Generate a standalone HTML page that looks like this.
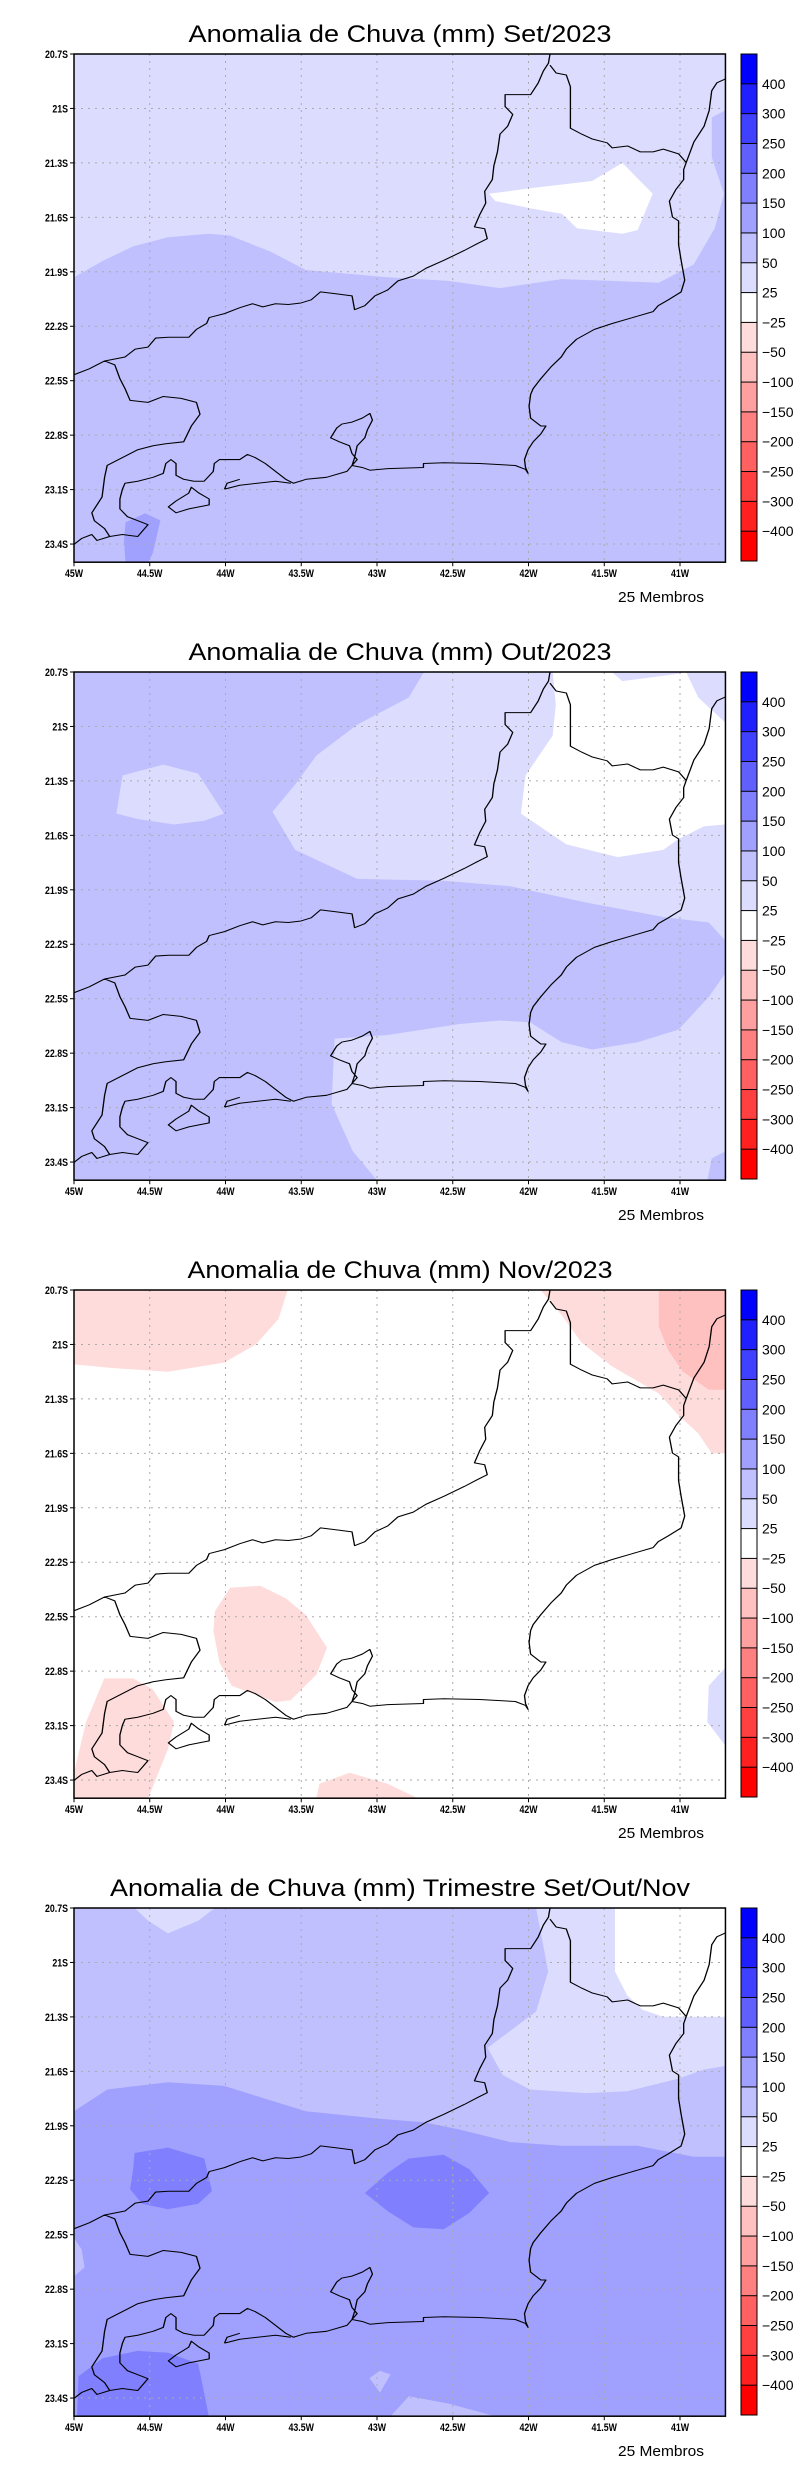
<!DOCTYPE html>
<html><head><meta charset="utf-8"><style>
html,body{margin:0;padding:0;background:#fff;}
svg{display:block;}
text{font-family:"Liberation Sans",sans-serif;fill:#000;}
</style></head><body>
<svg id="root" width="800" height="2472" viewBox="0 0 800 2472" xmlns="http://www.w3.org/2000/svg"></svg>
<script>
// ---- data ----
const panelTitles = ["Anomalia de Chuva (mm) Set/2023","Anomalia de Chuva (mm) Out/2023","Anomalia de Chuva (mm) Nov/2023","Anomalia de Chuva (mm) Trimestre Set/Out/Nov"];
const colorLevels = [400,300,250,200,150,100,50,25,-25,-50,-100,-150,-200,-250,-300,-400];
const colorFills = ["#0000ff","#2020ff","#4040ff","#6060ff","#8080ff","#a0a0ff","#c0c0ff","#dcdcff","#ffffff","#ffdcdc","#ffc0c0","#ffa0a0","#ff8080","#ff6060","#ff4040","#ff2020","#ff0000"];
const lonTicks = [-45,-44.5,-44,-43.5,-43,-42.5,-42,-41.5,-41];
const lonTickLabels = ["45W","44.5W","44W","43.5W","43W","42.5W","42W","41.5W","41W"];
const latTicks = [20.7,21,21.3,21.6,21.9,22.2,22.5,22.8,23.1,23.4];
const latTickLabels = ["20.7S","21S","21.3S","21.6S","21.9S","22.2S","22.5S","22.8S","23.1S","23.4S"];
const membersLabel = "25 Membros";
// contour regions: [fill, [[lon,latS],...]]
const panel1Regions = [
 ["#c0c0ff",[[-45,20.7],[-40.7,20.7],[-40.7,23.5],[-45,23.5]]],
 ["#dcdcff",[[-45,20.7],[-40.7,20.7],[-40.7,21.01],[-40.79,21.05],[-40.79,21.27],[-40.71,21.47],[-40.77,21.66],[-40.91,21.86],[-41.14,21.96],[-41.45,21.95],[-41.78,21.94],[-42.19,21.99],[-42.53,21.95],[-42.93,21.93],[-43.47,21.89],[-43.70,21.79],[-43.97,21.70],[-44.11,21.69],[-44.38,21.71],[-44.61,21.76],[-44.81,21.84],[-45,21.93]]],
 ["#ffffff",[[-42.26,21.47],[-41.99,21.44],[-41.58,21.40],[-41.38,21.30],[-41.18,21.47],[-41.28,21.67],[-41.38,21.69],[-41.68,21.66],[-41.78,21.58],[-41.99,21.55],[-42.22,21.51]]],
 ["#a0a0ff",[[-44.66,23.28],[-44.53,23.23],[-44.43,23.27],[-44.48,23.45],[-44.51,23.5],[-44.66,23.5],[-44.67,23.38]]]
];
const panel2Regions = [
 ["#c0c0ff",[[-45,20.7],[-40.7,20.7],[-40.7,23.5],[-45,23.5]]],
 ["#dcdcff",[[-42.69,20.7],[-42.79,20.84],[-43.13,20.99],[-43.40,21.16],[-43.54,21.32],[-43.69,21.47],[-43.54,21.68],[-43.13,21.84],[-42.56,21.85],[-42.12,21.88],[-41.62,21.97],[-41.11,22.05],[-40.81,22.08],[-40.70,22.18],[-40.70,20.7]]],
 ["#ffffff",[[-41.84,20.7],[-41.45,20.7],[-41.38,20.75],[-41.01,20.71],[-40.96,20.7],[-40.88,20.84],[-40.70,20.98],[-40.70,21.54],[-40.84,21.55],[-41.01,21.62],[-41.11,21.68],[-41.41,21.72],[-41.75,21.65],[-42.05,21.48],[-42.02,21.27],[-41.84,21.05],[-41.82,20.88]]],
 ["#dcdcff",[[-44.72,21.48],[-44.68,21.27],[-44.41,21.21],[-44.18,21.26],[-44.01,21.48],[-44.14,21.52],[-44.34,21.54],[-44.58,21.51]]],
 ["#dcdcff",[[-43.28,22.72],[-42.93,22.70],[-42.46,22.64],[-42.19,22.62],[-41.99,22.63],[-41.78,22.74],[-41.58,22.78],[-41.28,22.74],[-41.01,22.67],[-40.81,22.49],[-40.70,22.36],[-40.70,23.34],[-40.79,23.38],[-40.82,23.5],[-43.00,23.5],[-43.16,23.34],[-43.30,23.08]]]
];
const panel3Regions = [
 ["#ffffff",[[-45,20.7],[-40.7,20.7],[-40.7,23.5],[-45,23.5]]],
 ["#ffdcdc",[[-45,20.7],[-43.59,20.7],[-43.65,20.86],[-43.80,21.00],[-44.01,21.10],[-44.38,21.15],[-44.75,21.13],[-45,21.11]]],
 ["#ffdcdc",[[-41.92,20.7],[-40.70,20.7],[-40.70,21.60],[-40.79,21.60],[-40.88,21.49],[-41.01,21.39],[-41.14,21.27],[-41.45,21.12],[-41.65,20.99],[-41.78,20.84]]],
 ["#ffc0c0",[[-41.14,20.7],[-40.70,20.7],[-40.70,21.25],[-40.81,21.25],[-40.98,21.15],[-41.08,21.03],[-41.14,20.90]]],
 ["#ffdcdc",[[-44.07,22.47],[-43.97,22.34],[-43.77,22.33],[-43.60,22.40],[-43.47,22.49],[-43.33,22.67],[-43.40,22.82],[-43.57,22.96],[-43.67,22.97],[-43.96,22.88],[-44.04,22.75],[-44.08,22.58]]],
 ["#ffdcdc",[[-45,23.36],[-44.92,23.08],[-44.80,22.84],[-44.61,22.84],[-44.48,22.90],[-44.34,23.08],[-44.38,23.23],[-44.51,23.5],[-45,23.5]]],
 ["#ffdcdc",[[-43.40,23.5],[-43.38,23.42],[-43.18,23.36],[-42.93,23.42],[-42.73,23.5]]],
 ["#dcdcff",[[-40.70,22.78],[-40.81,22.88],[-40.82,23.08],[-40.70,23.21]]]
];
const panel4Regions = [
 ["#a0a0ff",[[-45,20.7],[-40.7,20.7],[-40.7,23.5],[-45,23.5]]],
 ["#c0c0ff",[[-45,20.7],[-40.70,20.7],[-40.70,22.07],[-40.91,22.07],[-41.28,22.01],[-41.78,22.01],[-42.12,21.99],[-42.46,21.92],[-42.69,21.88],[-43.00,21.86],[-43.47,21.82],[-43.74,21.75],[-44.01,21.68],[-44.38,21.66],[-44.78,21.70],[-45,21.82]]],
 ["#dcdcff",[[-41.95,20.7],[-41.87,21.05],[-41.95,21.27],[-42.27,21.47],[-42.17,21.62],[-41.99,21.70],[-41.62,21.72],[-41.35,21.71],[-41.01,21.64],[-40.84,21.59],[-40.70,21.57],[-40.70,21.30],[-41.11,21.30],[-41.25,21.26],[-41.35,21.18],[-41.43,21.05],[-41.43,20.7]]],
 ["#ffffff",[[-41.43,20.7],[-40.70,20.7],[-40.70,21.30],[-41.11,21.30],[-41.25,21.26],[-41.35,21.18],[-41.43,21.05]]],
 ["#dcdcff",[[-44.60,20.7],[-44.07,20.7],[-44.18,20.77],[-44.38,20.84],[-44.51,20.77]]],
 ["#8080ff",[[-44.60,22.05],[-44.38,22.02],[-44.14,22.08],[-44.09,22.26],[-44.18,22.33],[-44.38,22.36],[-44.55,22.33],[-44.63,22.25],[-44.61,22.14]]],
 ["#8080ff",[[-43.08,22.27],[-42.93,22.16],[-42.79,22.08],[-42.56,22.06],[-42.39,22.14],[-42.26,22.27],[-42.39,22.38],[-42.56,22.47],[-42.76,22.46],[-42.93,22.37]]],
 ["#8080ff",[[-44.97,23.28],[-44.81,23.18],[-44.58,23.14],[-44.38,23.15],[-44.18,23.21],[-44.11,23.5],[-44.98,23.5]]],
 ["#c0c0ff",[[-45,22.52],[-44.95,22.58],[-44.93,22.68],[-45,22.73]]],
 ["#c0c0ff",[[-43.05,23.29],[-42.98,23.25],[-42.91,23.27],[-42.98,23.37]]],
 ["#c0c0ff",[[-42.91,23.5],[-42.79,23.39],[-42.53,23.43],[-42.22,23.5]]]
];
const allRegions = [panel1Regions, panel2Regions, panel3Regions, panel4Regions];

// ---- geometry ----
const PANEL_H = 618, LEFT = 74, TOP = 54, PX_PER_LON = 151.5, PX_PER_LAT = 181.5;
const xScale = lon => LEFT + (lon + 45) * PX_PER_LON;
const yScale = lat => TOP + (lat - 20.7) * PX_PER_LAT;
const RIGHT = xScale(-40.7), BOTTOM = yScale(23.5);
const CB_X = 741, CB_W = 16, CB_TOP = 54, CB_BOT = 561;

// coastline / borders (outline geometry, zoom-pixel space)
const coastPath = "M145,950 L175,935 205,915 245,905 265,885 290,880 305,857 330,855 370,855 385,835 405,820 410,805 440,795 470,780 495,770 515,778 540,770 565,772 590,768 610,760 628,740 660,745 690,750 695,785 715,775 735,750 760,735 780,712 810,700 835,680 870,660 910,635 935,618 955,605 950,580 930,575 940,545 952,515 950,485 965,455 968,420 975,385 980,340 995,320 1005,290 990,270 990,240 1010,240 1040,240 1055,210 1065,180 1075,160 1078,137 M1078,165 L1090,185 1110,190 1118,220 1118,300 1118,325 1140,340 1160,352 1190,362 1200,375 1230,370 1255,385 1280,385 1300,378 1330,390 1345,412 1340,430 1340,455 1325,480 1312,510 1318,550 1330,560 1330,620 1335,660 1342,710 1335,740 1310,760 1290,775 1280,790 1240,805 1200,820 1165,835 1130,860 1110,885 1100,905 1080,930 1060,960 1045,985 1040,1000 1037,1030 1040,1060 1060,1080 1070,1080 1060,1100 1045,1120 1035,1140 1028,1165 1030,1185 1035,1200 1030,1190 1010,1180 940,1175 870,1173 830,1175 830,1185 760,1188 725,1192 710,1185 690,1180 700,1165 690,1150 685,1130 665,1120 648,1110 660,1085 670,1075 690,1070 710,1060 725,1048 730,1065 720,1090 715,1110 700,1130 695,1160 690,1180 680,1195 640,1210 600,1215 575,1225 560,1215 540,1195 520,1175 500,1160 485,1152 470,1165 450,1165 430,1165 420,1175 418,1195 400,1220 380,1220 360,1215 345,1205 345,1175 335,1165 325,1175 320,1200 300,1210 270,1220 245,1225 240,1240 235,1265 235,1290 250,1310 270,1320 290,1330 270,1360 240,1355 215,1360 190,1370 180,1355 160,1365 145,1380 M1345,412 L1360,360 1380,320 1390,280 1395,230 1405,210 1422,200 M205,915 L225,925 235,960 245,985 255,1015 290,1020 320,1005 355,1010 385,1020 392,1050 375,1080 360,1120 325,1125 300,1130 270,1140 240,1160 210,1180 205,1210 200,1260 180,1300 185,1320 205,1340 215,1360 M440,1240 L470,1230 540,1220 570,1225 M440,1240 L445,1225 470,1215 M330,1285 L345,1270 370,1250 375,1235 390,1250 410,1265 410,1280 390,1285 370,1290 345,1300 Z";

const NS = "http://www.w3.org/2000/svg";
const root = document.getElementById('root');
function mk(tag, attrs, parent){ const e=document.createElementNS(NS,tag); for(const k in attrs) e.setAttribute(k,attrs[k]); parent.appendChild(e); return e; }
const titleWidths = [423,423,425,580];

allRegions.forEach((regions, p) => {
  const g = mk('g',{transform:`translate(0,${p*PANEL_H})`},root);
  
  
  const title = mk('text',{x:400,y:42,'text-anchor':'middle','font-size':24,textLength:titleWidths[p],lengthAdjust:'spacingAndGlyphs'},g);
  title.textContent = panelTitles[p];
  
  
  const clipId = 'clip'+p;
  const cp = mk('clipPath',{id:clipId},g);
  mk('rect',{x:LEFT,y:TOP,width:RIGHT-LEFT,height:BOTTOM-TOP},cp);
  const fills = mk('g',{'clip-path':`url(#${clipId})`},g);
  
  
  regions.forEach(r => {
    const pts = r[1].map(q => xScale(q[0]).toFixed(1)+','+yScale(q[1]).toFixed(1)).join(' ');
    const poly = mk('polygon',{points:pts,fill:r[0]},fills);
    
    
  });
  // grid
  const grid = mk('g',{stroke:'#aaa','stroke-width':1,'stroke-dasharray':'2,5'},g);
  
  
  lonTicks.slice(1).forEach(l => mk('line',{x1:xScale(l),x2:xScale(l),y1:TOP,y2:BOTTOM},grid));
  latTicks.slice(1).forEach(l => mk('line',{x1:LEFT,x2:RIGHT,y1:yScale(l),y2:yScale(l)},grid));
  // coast
  const coastG = mk('g',{'clip-path':`url(#${clipId})`},g);
  const coast = mk('path',{d:coastPath,fill:'none',stroke:'#000','stroke-width':2.6,'stroke-linejoin':'round',transform:`scale(${1/1.96},${1/2.535})`},coastG);
  
  
  // frame
  const frame = mk('rect',{x:LEFT,y:TOP,width:RIGHT-LEFT,height:BOTTOM-TOP,fill:'none',stroke:'#000','stroke-width':1.5},g);
  
  
  // ticks
  lonTicks.forEach((l,i) => {
    mk('line',{x1:xScale(l),x2:xScale(l),y1:BOTTOM,y2:BOTTOM+4,stroke:'#000'},g);
    const t = mk('text',{x:xScale(l),y:BOTTOM+15,'text-anchor':'middle','font-size':11,'font-weight':'bold',transform:`translate(${xScale(l)},0) scale(0.8,1) translate(${-xScale(l)},0)`},g);
    t.textContent = lonTickLabels[i];
    
    
  });
  latTicks.forEach((l,i) => {
    mk('line',{x1:LEFT-4,x2:LEFT,y1:yScale(l),y2:yScale(l),stroke:'#000'},g);
    const t = mk('text',{x:68,y:yScale(l)+4,'text-anchor':'end','font-size':11,'font-weight':'bold',transform:`translate(68,0) scale(0.8,1) translate(-68,0)`},g);
    t.textContent = latTickLabels[i];
    
    
  });
  // colorbar
  const cb = mk('g',{},g);
  
  
  const binH = (CB_BOT-CB_TOP)/colorFills.length;
  colorFills.forEach((c,i) => {
    const r = mk('rect',{x:CB_X,y:CB_TOP+i*binH,width:CB_W,height:binH+0.3,fill:c},cb);
    
    
  });
  colorLevels.forEach((v,i) => {
    const y = CB_TOP+(i+1)*binH;
    mk('line',{x1:CB_X,x2:CB_X+CB_W,y1:y,y2:y,stroke:'#000','stroke-width':1},cb);
    const t = mk('text',{x:762,y:y+5,'font-size':14},cb);
    t.textContent = v<0 ? '\u2212'+(-v) : String(v);
    
    
  });
  mk('rect',{x:CB_X,y:CB_TOP,width:CB_W,height:CB_BOT-CB_TOP,fill:'none',stroke:'#000','stroke-width':1},cb);
  const mem = mk('text',{x:618,y:602,'font-size':15,textLength:86,lengthAdjust:'spacingAndGlyphs'},g);
  mem.textContent = membersLabel;
  
  
});
</script>
</body></html>
